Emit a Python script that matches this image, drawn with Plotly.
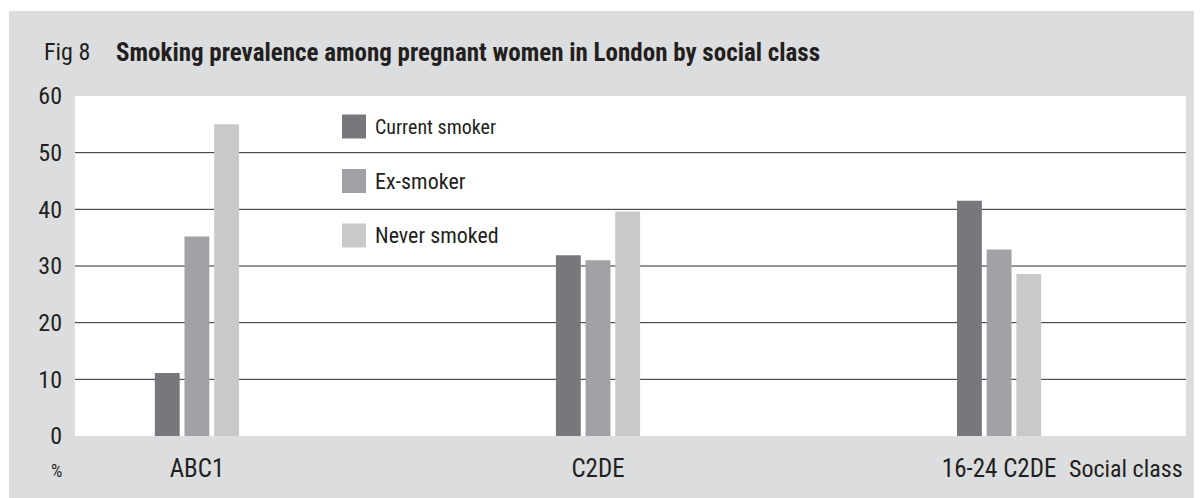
import plotly.graph_objects as go

categories = ["ABC1", "C2DE", "16-24 C2DE"]
series_names = ["Current smoker", "Ex-smoker", "Never smoked"]
current_smoker = [11.1, 31.9, 41.5]
ex_smoker = [35.2, 31.0, 32.9]
never_smoked = [55.0, 39.6, 28.6]
y_ticks = [0, 10, 20, 30, 40, 50, 60]
grid_vals = [10, 20, 30, 40, 50]

colors = ["#77787c", "#a1a2a6", "#c8c9cb"]
values = [current_smoker, ex_smoker, never_smoked]
positions = [0, 1, 2]

# figure is placed by the page at (8, 8)
W, H = 1194, 490
ML, MR, MT, MB = 67, 16, 88, 62
PW = W - ML - MR
PH = H - MT - MB

FONT = "Roboto Condensed, Roboto, sans-serif"
TXT = "#231f20"
BG = "#dcdddf"

def px_x(p):
    return (p - ML) / PW

def px_y(p):
    return (H - MB - p) / PH

fig = go.Figure()
bar_w = 0.062
offs = [-0.074, 0.0, 0.074]
for name, vals, col, o in zip(series_names, values, colors, offs):
    fig.add_trace(go.Bar(
        x=positions, y=vals, name=name,
        marker=dict(color=col, line=dict(width=0)),
        width=bar_w, offset=o - bar_w / 2,
        showlegend=False,
    ))

shapes = []
for v in grid_vals:
    shapes.append(dict(type="line", xref="paper", yref="y", x0=0, x1=1, y0=v, y1=v,
                       line=dict(color="#2a2a2a", width=1), layer="below"))
# thin white strips outside the grey panel
shapes.append(dict(type="rect", xref="paper", yref="paper",
                   x0=px_x(0), x1=px_x(W), y0=px_y(0), y1=px_y(3),
                   fillcolor="white", line=dict(width=0), layer="below"))
shapes.append(dict(type="rect", xref="paper", yref="paper",
                   x0=px_x(0), x1=px_x(1), y0=px_y(0), y1=px_y(H),
                   fillcolor="white", line=dict(width=0), layer="below"))

annotations = []
# legend drawn as swatches + labels
leg_y = [118.5, 173, 227.5]
leg_size = [20, 22, 22]
for name, col, yy, fs in zip(series_names, colors, leg_y, leg_size):
    shapes.append(dict(type="rect", xref="paper", yref="paper",
                       x0=px_x(334), x1=px_x(358), y0=px_y(yy - 12), y1=px_y(yy + 12),
                       fillcolor=col, line=dict(width=0)))
    annotations.append(dict(xref="paper", yref="paper", x=px_x(365), y=px_y(yy),
                            text=name, showarrow=False, xanchor="left", yanchor="middle",
                            font=dict(family=FONT, size=fs, color=TXT)))

annotations.append(dict(xref="paper", yref="paper", x=px_x(34), y=px_y(44),
                        text="Fig 8", showarrow=False, xanchor="left", yanchor="middle",
                        font=dict(family=FONT, size=24, color=TXT)))
annotations.append(dict(xref="paper", yref="paper", x=px_x(106), y=px_y(44),
                        text="<b>Smoking prevalence among pregnant women in London by social class</b>",
                        showarrow=False, xanchor="left", yanchor="middle",
                        font=dict(family=FONT, size=25, color=TXT)))
annotations.append(dict(xref="paper", yref="paper", x=px_x(48.5), y=px_y(462),
                        text="%", showarrow=False, xanchor="center", yanchor="middle",
                        font=dict(family=FONT, size=18, color=TXT)))
annotations.append(dict(xref="paper", yref="paper", x=px_x(1177), y=px_y(461),
                        text="Social class", showarrow=False, xanchor="right", yanchor="middle",
                        font=dict(family=FONT, size=24, color=TXT)))

fig.update_layout(
    width=W, height=H,
    margin=dict(l=ML, r=MR, t=MT, b=MB, pad=0),
    paper_bgcolor=BG, plot_bgcolor="white",
    barmode="overlay",
    shapes=shapes, annotations=annotations,
    showlegend=False,
    font=dict(family=FONT, size=24, color=TXT),
)
fig.update_xaxes(range=[-0.304, 2.466], tickvals=positions, ticktext=categories,
                 showgrid=False, zeroline=False, showline=False, ticks="",
                 ticklabelstandoff=15, tickfont=dict(family=FONT, size=25, color=TXT))
fig.update_yaxes(range=[0, 60], tickvals=y_ticks, showgrid=False, zeroline=False,
                 showline=False, ticks="", ticklabelstandoff=12,
                 tickfont=dict(family=FONT, size=24, color=TXT))

fig.write_html("out.html")
